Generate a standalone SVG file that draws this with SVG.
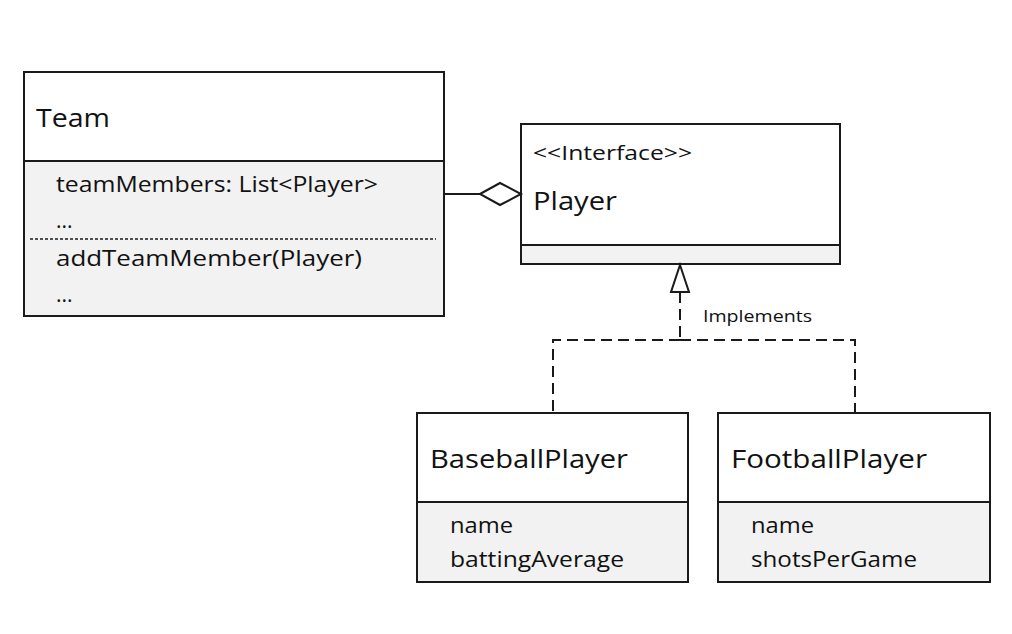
<svg xmlns="http://www.w3.org/2000/svg" width="1012" height="634" viewBox="0 0 1012 634">
<style>
.box{fill:#ffffff;stroke:#1a1a1a;stroke-width:2}
.comp{fill:#f2f2f2;stroke:#1a1a1a;stroke-width:2}
.t{font-family:"Open Sans","Liberation Sans",sans-serif;fill:#111}
.title{font-size:26px}
.attr{font-size:21px}
.lbl{font-size:16px}
.line{fill:none;stroke:#1a1a1a;stroke-width:2}
.dash{fill:none;stroke:#1a1a1a;stroke-width:2;stroke-dasharray:11 6}
</style>
<rect width="1012" height="634" fill="#ffffff"/>
<g id="Team">
<rect class="box" x="24" y="72" width="420" height="89"/>
<rect class="comp" x="24" y="161" width="420" height="155"/>
<line x1="30" y1="239" x2="436" y2="239" stroke="#1a1a1a" stroke-width="1.5" stroke-dasharray="3 2"/>
<text class="t title" x="36" y="127" textLength="74" lengthAdjust="spacingAndGlyphs">Team</text>
<text class="t attr" x="56" y="192" textLength="322" lengthAdjust="spacingAndGlyphs">teamMembers: List&lt;Player&gt;</text>
<text class="t attr" x="56" y="228">...</text>
<text class="t attr" x="56" y="266" textLength="306" lengthAdjust="spacingAndGlyphs">addTeamMember(Player)</text>
<text class="t attr" x="56" y="302">...</text>
</g>
<g id="Player">
<rect class="box" x="521" y="124" width="319" height="121"/>
<rect class="comp" x="521" y="245" width="319" height="19"/>
<text class="t" font-size="20" x="533" y="160" textLength="159" lengthAdjust="spacingAndGlyphs">&lt;&lt;Interface&gt;&gt;</text>
<text class="t title" x="533" y="210" textLength="84" lengthAdjust="spacingAndGlyphs">Player</text>
</g>
<g id="BaseballPlayer">
<rect class="box" x="417" y="413" width="271" height="89"/>
<rect class="comp" x="417" y="502" width="271" height="80"/>
<text class="t title" x="430" y="468" textLength="198" lengthAdjust="spacingAndGlyphs">BaseballPlayer</text>
<text class="t attr" x="450" y="533" textLength="63" lengthAdjust="spacingAndGlyphs">name</text>
<text class="t attr" x="450" y="567" textLength="174" lengthAdjust="spacingAndGlyphs">battingAverage</text>
</g>
<g id="FootballPlayer">
<rect class="box" x="718" y="413" width="272" height="89"/>
<rect class="comp" x="718" y="502" width="272" height="80"/>
<text class="t title" x="731" y="468" textLength="196" lengthAdjust="spacingAndGlyphs">FootballPlayer</text>
<text class="t attr" x="751" y="533" textLength="63" lengthAdjust="spacingAndGlyphs">name</text>
<text class="t attr" x="751" y="567" textLength="166" lengthAdjust="spacingAndGlyphs">shotsPerGame</text>
</g>
<g id="connectors">
<line class="line" x1="444" y1="194" x2="480" y2="194"/>
<polygon points="480,194 500,183 521,194 500,205" fill="#ffffff" stroke="#1a1a1a" stroke-width="2"/>
<polygon points="680,265 689,292 671,292" fill="#ffffff" stroke="#1a1a1a" stroke-width="2"/>
<path class="dash" d="M680,292 V340"/>
<path class="dash" d="M680,340 H553 V413"/>
<path class="dash" d="M680,340 H855 V413"/>
<text class="t lbl" x="703" y="322" textLength="109" lengthAdjust="spacingAndGlyphs">Implements</text>
</g>
</svg>
